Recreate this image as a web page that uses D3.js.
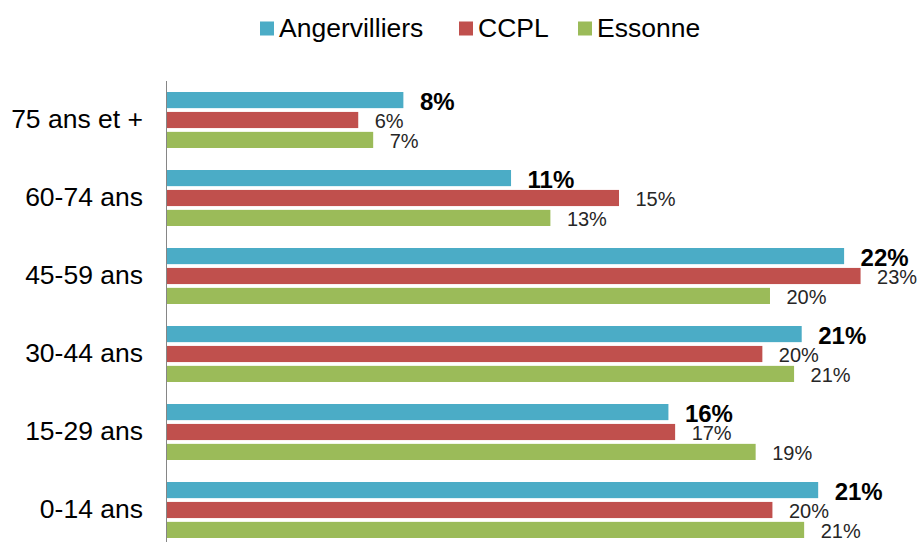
<!DOCTYPE html>
<html lang="fr">

<head>
  <title></title>
  <meta charset="UTF-8">
  <style>
    body {
      margin: 0;
      background: #fff;
    }
    text {
      font-family: "Liberation Sans", Arial, sans-serif;
    }
  </style>
</head>

<body>
  <div id="container"></div>
  <script src="https://cdn.jsdelivr.net/npm/d3@7"></script>
  <script>
    const size = { w: 917, h: 542 };

    // data (%)
    const categories = ['75 ans et +', '60-74 ans', '45-59 ans', '30-44 ans', '15-29 ans', '0-14 ans'];
    const seriesNames = ['Angervilliers', 'CCPL', 'Essonne'];
    const colors = ['#4BACC6', '#C0504D', '#9BBB59'];
    const angervilliers = [7.75, 11.28, 22.2, 20.81, 16.44, 21.35];
    const ccpl = [6.27, 14.82, 22.74, 19.52, 16.66, 19.85];
    const essonne = [6.76, 12.57, 19.77, 20.56, 19.3, 20.89];

    const values = [angervilliers, ccpl, essonne];

    const rows = [];
    categories.forEach((c, i) => {
      seriesNames.forEach((s, j) => {
        rows.push({ cat: c, series: s, idx: j, value: values[j][i] });
      });
    });

    const svg = d3.select('#container')
      .append('svg')
      .attr('width', size.w)
      .attr('height', size.h);

    const x = d3.scaleLinear()
      .domain([0, 25])
      .range([167, 929.5]);

    const y0 = d3.scaleBand()
      .domain(categories)
      .range([81, 549]);

    const y1 = d3.scaleBand()
      .domain(seriesNames)
      .range([11, 67])
      .paddingInner(0.19);

    // bars
    svg.append('g')
      .selectAll('rect')
      .data(rows)
      .join('rect')
      .attr('x', x(0))
      .attr('y', d => y0(d.cat) + y1(d.series))
      .attr('width', d => x(d.value) - x(0))
      .attr('height', y1.bandwidth())
      .attr('fill', d => colors[d.idx]);

    // data labels
    svg.append('g')
      .selectAll('text')
      .data(rows)
      .join('text')
      .attr('x', d => x(d.value) + 16.5)
      .attr('y', d => y0(d.cat) + y1(d.series) + y1.bandwidth() / 2 + (d.idx === 0 ? 10 : 8))
      .attr('font-size', d => d.idx === 0 ? 24 : 20)
      .attr('font-weight', d => d.idx === 0 ? 'bold' : 'normal')
      .attr('fill', d => d.idx === 0 ? '#000' : '#262626')
      .text(d => Math.round(d.value) + '%');

    // category axis
    svg.append('line')
      .attr('x1', 166.5)
      .attr('x2', 166.5)
      .attr('y1', y0.range()[0])
      .attr('y2', y0.range()[1])
      .attr('stroke', '#868686')
      .attr('stroke-width', 1);

    svg.append('g')
      .selectAll('text')
      .data(categories)
      .join('text')
      .attr('x', 143)
      .attr('y', d => y0(d) + y0.bandwidth() / 2 + 8)
      .attr('text-anchor', 'end')
      .attr('font-size', 26.5)
      .attr('fill', '#000')
      .text(d => d);

    // legend
    const legendX = [260, 459, 578];
    const legend = svg.append('g')
      .selectAll('g')
      .data(seriesNames)
      .join('g')
      .attr('transform', (d, i) => 'translate(' + legendX[i] + ',0)');
    legend.append('rect')
      .attr('x', 0)
      .attr('y', 21.5)
      .attr('width', 14)
      .attr('height', 14)
      .attr('fill', (d, i) => colors[i]);
    legend.append('text')
      .attr('x', 19)
      .attr('y', 36.5)
      .attr('font-size', 26.5)
      .attr('fill', '#000')
      .text(d => d);
  </script>
</body>

</html>
